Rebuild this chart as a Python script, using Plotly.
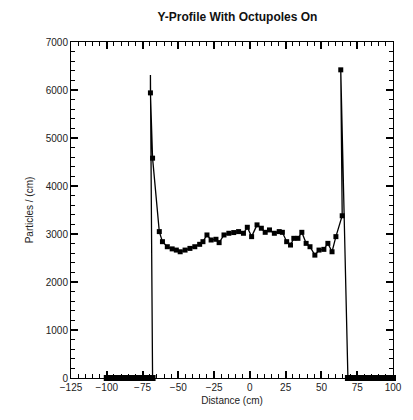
import plotly.graph_objects as go

# Baseline (zero) region on the left
left_zero_x = [-100, -97.5, -95, -92.5, -90, -87.5, -85, -82.5, -80, -77.5, -75, -72.5, -70, -68]
# left spike + plateau + right spike
profile_x = [-69.5, -69.5, -68, -63.3, -61.1, -57.7, -54.3, -51.4, -48.7, -45.3, -41.9, -38.5, -35.1,
             -32.8, -30.0, -27.1, -23.7, -21.5, -18.1, -14.7, -11.3, -7.9, -4.5, -1.8, 1.2, 5.0, 8.0,
             10.7, 13.7, 17.1, 20.5, 22.7, 25.7, 28.4, 30.7, 33.6, 36.3, 39.3, 42.0, 45.4, 48.3, 51.7,
             54.5, 57.4, 60.1, 64.5, 63.5]
profile_y = [6310, 5940, 4580, 3050, 2840, 2735, 2690, 2665, 2630, 2665, 2700, 2735, 2785,
             2840, 2980, 2875, 2890, 2820, 2980, 3015, 3030, 3050, 3015, 3140, 2945, 3190, 3120,
             3035, 3085, 3015, 3050, 3035, 2840, 2770, 2910, 2910, 3035, 2805, 2735, 2560, 2665, 2680,
             2805, 2630, 2945, 3380, 6420]
# Baseline on the right
right_zero_x = [68.5, 70, 72.5, 75, 77.5, 80, 82.5, 85, 87.5, 90, 92.5, 95, 97.5, 100]

x_all = left_zero_x + profile_x + right_zero_x
y_all = [0] * len(left_zero_x) + profile_y + [0] * len(right_zero_x)
# markers: no marker on the left spike apex
marker_sizes = [6] * len(left_zero_x) + [0] + [5] * (len(profile_x) - 1) + [6] * len(right_zero_x)

x_range = [-125, 100]
y_range = [0, 7000]
x_tick_step = 25
y_tick_step = 1000

fig = go.Figure()
fig.add_trace(go.Scatter(
    x=x_all, y=y_all, mode="lines+markers",
    line=dict(color="black", width=1.3),
    marker=dict(symbol="square", size=marker_sizes, color="black", opacity=1, line=dict(width=0)),
    showlegend=False, cliponaxis=False,
))

axis_font = dict(family="Liberation Sans Narrow, Liberation Sans, Arial", size=10, color="#222")
fig.update_layout(
    template="simple_white",
    width=413, height=420,
    margin=dict(l=71, r=11, t=42, b=42),
    title=dict(text="<b>Y-Profile With Octupoles On</b>", x=0.575, xanchor="center", y=0.96,
               yanchor="middle",
               font=dict(family="Liberation Sans Narrow, Liberation Sans, Arial", size=12, color="#111")),
    font=axis_font,
)
fig.update_xaxes(
    range=x_range, tickmode="linear", tick0=x_range[0], dtick=x_tick_step,
    showgrid=False, zeroline=False, showline=True, linecolor="black",
    mirror="ticks", ticks="inside", ticklen=7, tickwidth=1.5, tickcolor="black",
    minor=dict(ticks="inside", ticklen=4, tickwidth=1.2, tickcolor="black", dtick=5),
    title=dict(text="Distance (cm)", standoff=4, font=axis_font),
    tickfont=axis_font,
)
fig.update_yaxes(
    range=y_range, tickmode="linear", tick0=y_range[0], dtick=y_tick_step,
    showgrid=False, zeroline=False, showline=True, linecolor="black",
    mirror="ticks", ticks="inside", ticklen=7, tickwidth=1.5, tickcolor="black",
    minor=dict(ticks="inside", ticklen=4, tickwidth=1.2, tickcolor="black", dtick=200),
    title=dict(text="Particles / (cm)", standoff=10, font=axis_font),
    tickfont=axis_font,
)
fig.write_html("out.html")
